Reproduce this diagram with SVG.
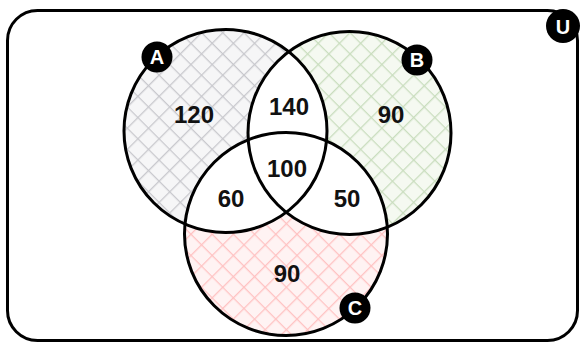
<svg xmlns="http://www.w3.org/2000/svg" width="582" height="347" viewBox="0 0 582 347">
<style>
.outline{fill:none;stroke:#000;stroke-width:3}
.num{font-family:"Liberation Sans",Arial,sans-serif;font-weight:bold;font-size:24px;fill:#111;text-anchor:middle}
.badge{fill:#000}
.bl{font-family:"Liberation Sans",Arial,sans-serif;font-weight:bold;font-size:20px;fill:#fff;text-anchor:middle}
</style>
<defs>
<pattern id="hA" width="15" height="15" patternUnits="userSpaceOnUse" patternTransform="rotate(45)">
<rect width="15" height="15" fill="#f6f6f7"/>
<path d="M0 0H15M0 0V15" stroke="#c8c8cd" stroke-width="2.6"/>
</pattern>
<pattern id="hB" width="15" height="15" patternUnits="userSpaceOnUse" patternTransform="rotate(45)">
<rect width="15" height="15" fill="#f5f9f1"/>
<path d="M0 0H15M0 0V15" stroke="#c9ddbe" stroke-width="2.6"/>
</pattern>
<pattern id="hC" width="15" height="15" patternUnits="userSpaceOnUse" patternTransform="rotate(45)">
<rect width="15" height="15" fill="#fff3f3"/>
<path d="M0 0H15M0 0V15" stroke="#ffc2c2" stroke-width="2.6"/>
</pattern>
<clipPath id="cA"><circle cx="225.5" cy="131" r="101.5"/></clipPath>
<clipPath id="cB"><circle cx="349.5" cy="133" r="101.5"/></clipPath>
</defs>
<rect width="582" height="347" fill="#fff"/>
<g id="universe">
<rect x="7.5" y="10.5" width="570" height="330" rx="30" class="outline"/>
</g>
<g id="setA"><circle cx="225.5" cy="131" r="101.5" fill="url(#hA)"/></g>
<g id="setB"><circle cx="349.5" cy="133" r="101.5" fill="url(#hB)"/></g>
<g id="setC"><circle cx="286" cy="234" r="101.5" fill="url(#hC)"/></g>
<g id="intersections" fill="#fff">
<circle cx="349.5" cy="133" r="101.5" clip-path="url(#cA)"/>
<circle cx="286" cy="234" r="101.5" clip-path="url(#cA)"/>
<circle cx="286" cy="234" r="101.5" clip-path="url(#cB)"/>
</g>
<g id="outlines">
<circle cx="225.5" cy="131" r="101.5" class="outline"/>
<circle cx="349.5" cy="133" r="101.5" class="outline"/>
<circle cx="286" cy="234" r="101.5" class="outline"/>
</g>
<g id="numbers">
<text x="194" y="123" class="num">120</text>
<text x="289" y="115" class="num">140</text>
<text x="391" y="123" class="num">90</text>
<text x="287" y="177" class="num">100</text>
<text x="231" y="207" class="num">60</text>
<text x="347" y="207" class="num">50</text>
<text x="287" y="282" class="num">90</text>
</g>
<g id="labelA"><circle cx="157" cy="57" r="15.5" class="badge"/><text x="157" y="64" class="bl">A</text></g>
<g id="labelB"><circle cx="417" cy="60" r="15.5" class="badge"/><text x="417" y="67" class="bl">B</text></g>
<g id="labelC"><circle cx="355" cy="308" r="15.5" class="badge"/><text x="355" y="315" class="bl">C</text></g>
<g id="labelU"><circle cx="563" cy="26" r="17" class="badge"/><text x="563" y="33.5" class="bl">U</text></g>
</svg>
